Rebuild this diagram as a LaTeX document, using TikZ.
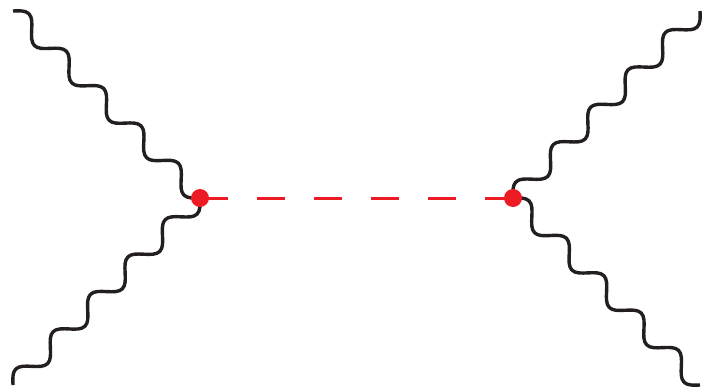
\documentclass[tikz,border=0pt]{standalone}
\usetikzlibrary{decorations}
\definecolor{vred}{HTML}{ED1C24}
\definecolor{ink}{HTML}{231F20}
\pgfdeclaredecoration{sinewave}{up}{
  \state{up}[width=+.5\pgfdecorationsegmentlength, next state=down]{
    \pgfpathcurveto
      {\pgfqpoint{.08357\pgfdecorationsegmentlength}{.5251\pgfdecorationsegmentamplitude}}
      {\pgfqpoint{.16002\pgfdecorationsegmentlength}{\pgfdecorationsegmentamplitude}}
      {\pgfqpoint{.25\pgfdecorationsegmentlength}{\pgfdecorationsegmentamplitude}}
    \pgfpathcurveto
      {\pgfqpoint{.33998\pgfdecorationsegmentlength}{\pgfdecorationsegmentamplitude}}
      {\pgfqpoint{.41643\pgfdecorationsegmentlength}{.5251\pgfdecorationsegmentamplitude}}
      {\pgfqpoint{.5\pgfdecorationsegmentlength}{0pt}}
  }
  \state{down}[width=+.5\pgfdecorationsegmentlength, next state=up]{
    \pgfpathcurveto
      {\pgfqpoint{.08357\pgfdecorationsegmentlength}{-.5251\pgfdecorationsegmentamplitude}}
      {\pgfqpoint{.16002\pgfdecorationsegmentlength}{-\pgfdecorationsegmentamplitude}}
      {\pgfqpoint{.25\pgfdecorationsegmentlength}{-\pgfdecorationsegmentamplitude}}
    \pgfpathcurveto
      {\pgfqpoint{.33998\pgfdecorationsegmentlength}{-\pgfdecorationsegmentamplitude}}
      {\pgfqpoint{.41643\pgfdecorationsegmentlength}{-.5251\pgfdecorationsegmentamplitude}}
      {\pgfqpoint{.5\pgfdecorationsegmentlength}{0pt}}
  }
  \state{final}{\pgfpathlineto{\pgfpointdecoratedpathlast}}
}
\tikzset{
  photon/.style={draw=ink, line width=3.4pt, line join=round, decorate,
    decoration={sinewave, amplitude=9.3pt, segment length=52.85pt}},
  scalar/.style={draw=vred, line width=3pt, dash pattern=on 28pt off 29pt},
  vertexdot/.style={circle, fill=vred, inner sep=0pt, minimum size=18pt}
}
\begin{document}
\begin{tikzpicture}[x=1pt,y=1pt]
\useasboundingbox (0,0) rectangle (703,389);
\coordinate (L) at (200,191);
\coordinate (R) at (513,191);
\coordinate (TL) at (13,378);
\coordinate (BL) at (13,4);
\coordinate (TR) at (700,378);
\coordinate (BR) at (700,4);
\draw[photon] (TL) -- (L);
\draw[photon] (BL) -- (L);
\draw[photon] (TR) -- (R);
\draw[photon] (BR) -- (R);
\draw[scalar] (L) -- (R);
\node[vertexdot] (Ldot) at (L) {};
\node[vertexdot] (Rdot) at (R) {};
\end{tikzpicture}
\end{document}
